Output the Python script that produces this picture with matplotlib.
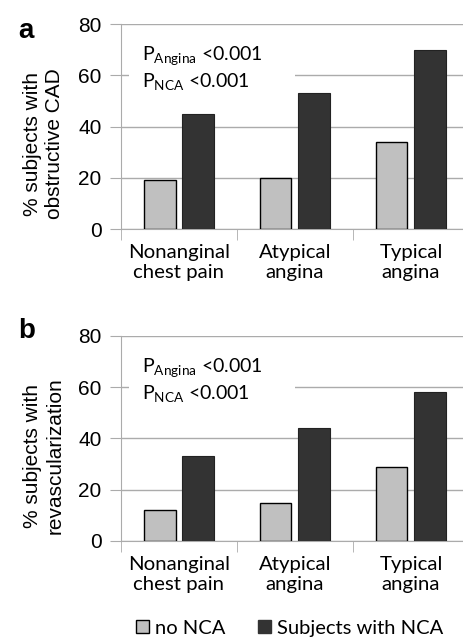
import numpy as np
import matplotlib
matplotlib.use('Agg')
import matplotlib.pyplot as plt
from matplotlib.patches import Patch, Rectangle

# Data
categories = ['Nonanginal\nchest pain', 'Atypical\nangina', 'Typical\nangina']
cad_no_nca = [19, 20, 34]
cad_with_nca = [45, 53, 70]
revasc_no_nca = [12, 15, 29]
revasc_with_nca = [33, 44, 58]
ylabels = ['% subjects with\nobstructive CAD', '% subjects with\nrevascularization']
panel_letters = ['a', 'b']
legend_labels = ['no NCA', 'Subjects with NCA']
p_text = '$\\mathregular{P_{Angina}}$ <0.001\n$\\mathregular{P_{NCA}}$ <0.001'

GRAY = '#c0c0c0'
DARK = '#333333'
GRID = '#ababab'
ARIAL = 'Liberation Sans'
CAL = 'Lato'

fig = plt.figure(figsize=(4.63, 6.39), dpi=100)
ax_a = fig.add_axes([0.2613, 0.6416, 0.7516, 0.3208])
ax_b = fig.add_axes([0.2613, 0.1534, 0.7516, 0.3208])

x = np.arange(len(categories))
w = 0.27
off = 0.165
letter_y = [0.932, 0.99]

for ax, gvals, dvals, ylab, letter, ly in zip([ax_a, ax_b],
                                              [cad_no_nca, revasc_no_nca],
                                              [cad_with_nca, revasc_with_nca],
                                              ylabels, panel_letters, letter_y):
    ax.bar(x - off, gvals, w, color=GRAY, edgecolor='black', linewidth=1.0, zorder=3)
    ax.bar(x + off, dvals, w, color=DARK, edgecolor='#222222', linewidth=0.8, zorder=3)
    ax.set_xlim(-0.5, 2.5)
    ax.set_ylim(0, 80)
    ax.set_yticks([0, 20, 40, 60, 80])
    ax.yaxis.grid(True, color=GRID, linewidth=1.0, zorder=0)
    ax.set_axisbelow(True)
    for s in ['top', 'right']:
        ax.spines[s].set_visible(False)
    ax.spines['left'].set_color(GRID)
    ax.spines['bottom'].set_color(GRID)
    ax.tick_params(axis='y', length=8, color=GRID, pad=6, labelsize=15)
    for t in ax.get_yticklabels():
        t.set_fontfamily(ARIAL)
    ax.set_xticks(x)
    ax.set_xticklabels(categories, fontfamily=CAL, fontsize=14.7, linespacing=1.22)
    ax.tick_params(axis='x', which='major', length=0, pad=11)
    ax.set_xticks([-0.5, 0.5, 1.5], minor=True)
    ax.tick_params(axis='x', which='minor', length=8, color=GRID)
    ax.set_ylabel(ylab, fontfamily=ARIAL, fontsize=15, linespacing=1.25)
    ax.yaxis.set_label_coords(-0.163, 0.415)
    # white box behind the p-value text (hides the gridline)
    ax.add_patch(Rectangle((0.023, 0.63), 0.477, 0.32, transform=ax.transAxes,
                           facecolor='white', edgecolor='none', zorder=2))
    ax.text(0.06, 0.9, p_text, transform=ax.transAxes, fontfamily=CAL, fontsize=14,
            va='top', ha='left', linespacing=1.2, zorder=4)
    ax.text(-0.296, ly, letter, transform=ax.transAxes, fontfamily=ARIAL, fontsize=20,
            fontweight='bold', va='baseline', ha='left')

handles = [Patch(facecolor=GRAY, edgecolor='black', linewidth=1.0),
           Patch(facecolor=DARK, edgecolor=DARK)]
fig.legend(handles, legend_labels, loc='center', bbox_to_anchor=(0.625, 0.017), ncol=2,
           frameon=False, prop={'family': CAL, 'size': 14.5}, handlelength=0.65,
           handleheight=0.65, handletextpad=0.3, columnspacing=1.6, borderpad=0)

fig.savefig('out.png', dpi=100)
